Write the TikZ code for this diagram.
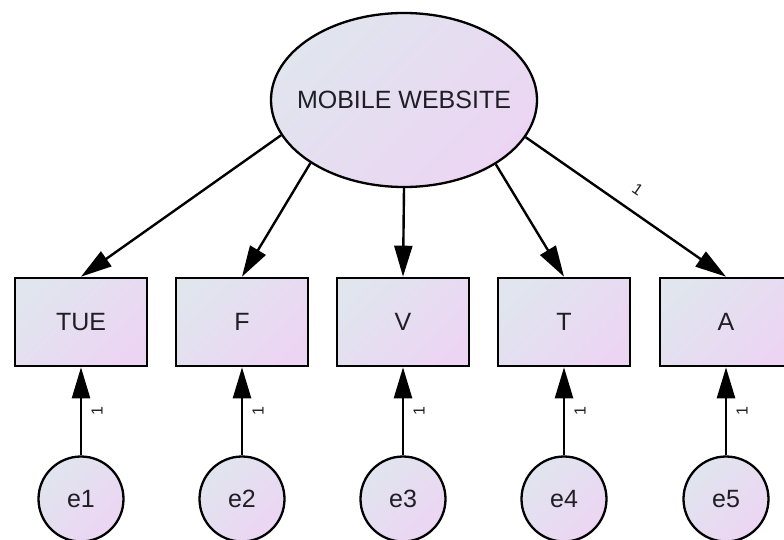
\documentclass[tikz,border=0pt]{standalone}
\usepackage{fontspec}
\setmainfont{Liberation Sans}
\usetikzlibrary{arrows.meta,shapes.geometric}
\definecolor{fillA}{RGB}{224,229,238}
\definecolor{fillB}{RGB}{236,213,243}
\definecolor{ink}{RGB}{30,30,36}
\begin{document}
\begin{tikzpicture}[x=1pt,y=-1pt,
  grad/.style={top color=fillA,bottom color=fillB,shading angle=45},
  latent/.style={ellipse,draw,line width=2.3pt,grad,minimum width=266pt,minimum height=174pt,
    inner sep=0pt},
  observed/.style={rectangle,draw,line width=2.6pt,grad,minimum width=132pt,minimum height=88pt,
    inner sep=0pt,text=ink,font=\fontsize{25}{30}\selectfont},
  errterm/.style={circle,draw,line width=2.3pt,grad,minimum size=85pt,inner sep=0pt,
    text=ink,font=\fontsize{25}{30}\selectfont},
  caption/.style={inner sep=0pt,text=ink,font=\fontsize{25}{30}\selectfont},
  link/.style={line width=2.4pt,-{Triangle[length=31pt,width=18pt]}},
  lab/.style={inner sep=0pt,text=ink,font=\fontsize{16}{18}\selectfont}]
\useasboundingbox (0,0) rectangle (784,540);
\clip (0,0) rectangle (784,540);

% latent factor
\node[latent] (mw) at (404,100) {};
\node[caption] (mwname) at (mw.center) {MOBILE WEBSITE};

% observed indicators
\node[observed] (tue) at (81,322) {TUE};
\node[observed] (f)   at (242,322) {F};
\node[observed] (v)   at (403,322) {V};
\node[observed] (t)   at (564,322) {T};
\node[observed] (a)   at (726,322) {A};

% error terms
\node[errterm] (e1) at (81,499) {e1};
\node[errterm] (e2) at (242,499) {e2};
\node[errterm] (e3) at (403,499) {e3};
\node[errterm] (e4) at (564,499) {e4};
\node[errterm] (e5) at (726,499) {e5};

% factor loadings
\draw[link] (mw.196.5) -- (tue.north);
\draw[link] (mw.214.5) -- (f.north);
\draw[link] (mw.270)   -- (v.north);
\draw[link] (mw.325.5) -- (t.north);
\draw[link] (mw.343.5) -- node[lab,sloped,above=14pt,pos=0.5] (la) {1} (a.north);

% error paths
\draw[link] (e1) -- (tue);
\draw[link] (e2) -- (f);
\draw[link] (e3) -- (v);
\draw[link] (e4) -- (t);
\draw[link] (e5) -- (a);

% fixed error weights
\node[lab,rotate=90] (l1) at (97,411) {1};
\node[lab,rotate=90] (l2) at (258,411) {1};
\node[lab,rotate=90] (l3) at (419,411) {1};
\node[lab,rotate=90] (l4) at (580,411) {1};
\node[lab,rotate=90] (l5) at (742,411) {1};
\end{tikzpicture}
\end{document}
